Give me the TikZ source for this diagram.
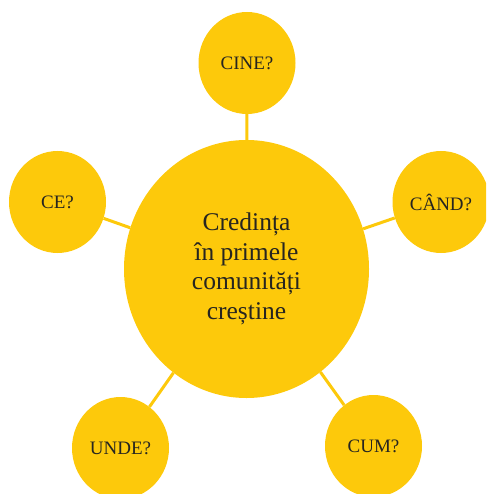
\documentclass[tikz,border=0pt]{standalone}
\usepackage{fontspec}
\setmainfont{Liberation Serif}
\usepackage{tikz}
\usetikzlibrary{shapes.geometric}
\definecolor{galben}{HTML}{FDC90B}
\definecolor{textgri}{HTML}{262520}

\begin{document}
\begin{tikzpicture}[x=1pt,y=-1pt,
	intrebare/.style={ellipse,fill=galben,inner sep=0pt,minimum width=97pt,minimum height=102pt,text=textgri,font=\fontsize{19}{22}\selectfont},
	tema/.style={ellipse,fill=galben,inner sep=0pt,minimum width=245pt,minimum height=258pt,text=textgri,align=center,font=\fontsize{25.5}{29.5}\selectfont},
	legatura/.style={draw=galben,line width=3pt}]

	\useasboundingbox (0,0) rectangle (486,494);
	\clip (0,0) rectangle (486,494);

	\node[tema] (centru) at (246.5,269) {Credința\\în primele\\comunități\\creștine};

	\node[intrebare] (cine) at (247,63) {CINE?};
	\node[intrebare] (ce) at (57.5,202) {CE?};
	\node[intrebare] (cand) at (441,202) {CÂND?};
	\node[intrebare] (unde) at (120.5,448) {UNDE?};
	\node[intrebare] (cum) at (373.5,446) {CUM?};

	\draw[legatura] (centru) -- (cine);
	\draw[legatura] (centru) -- (ce);
	\draw[legatura] (centru) -- (cand);
	\draw[legatura] (centru) -- (unde);
	\draw[legatura] (centru) -- (cum);

\end{tikzpicture}
\end{document}
